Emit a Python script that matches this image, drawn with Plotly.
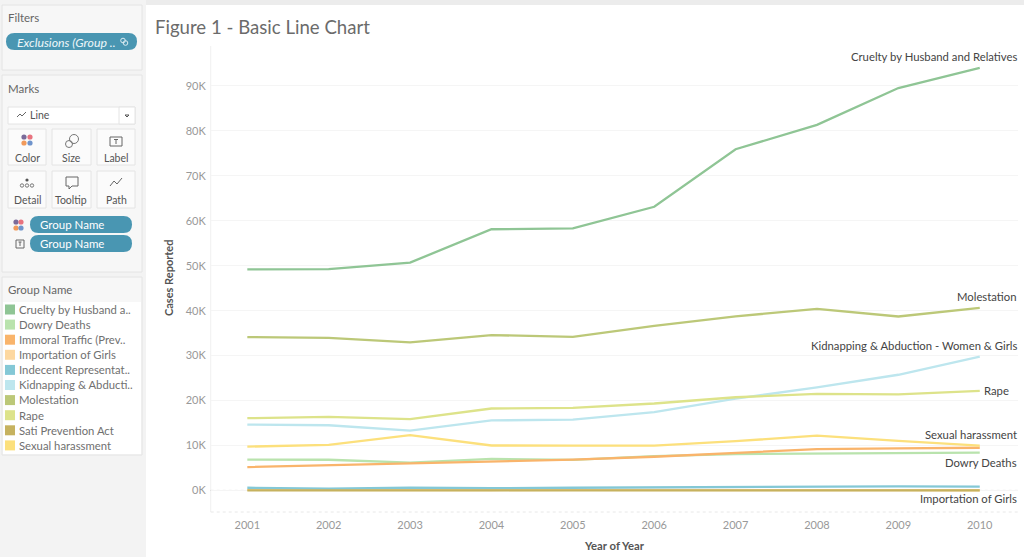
import plotly.graph_objects as go

W, H = 1024, 557
FONT = "Lato"

years = [2001, 2002, 2003, 2004, 2005, 2006, 2007, 2008, 2009, 2010]

cruelty = [49170, 49237, 50703, 58121, 58319, 63128, 75930, 81344, 89546, 94041]
dowry = [6851, 6822, 6208, 7026, 6787, 7618, 8093, 8172, 8383, 8391]
immoral = [5200, 5650, 6100, 6550, 6850, 7500, 8300, 9200, 9350, 9500]
importation = [114, 76, 46, 89, 149, 67, 61, 67, 48, 36]
indecent = [600, 400, 600, 500, 600, 700, 800, 900, 900, 850]
kidnapping = [14645, 14506, 13296, 15578, 15750, 17414, 20416, 22939, 25741, 29795]
molestation = [34124, 33943, 32939, 34567, 34175, 36617, 38734, 40413, 38711, 40613]
rape = [16075, 16373, 15847, 18233, 18359, 19348, 20737, 21467, 21397, 22172]
sati = [0, 0, 0, 0, 0, 0, 0, 0, 0, 0]
harassment = [9746, 10155, 12325, 10001, 9984, 9966, 10950, 12214, 11009, 9961]

series = [cruelty, dowry, immoral, importation, indecent, kidnapping, molestation, rape, sati, harassment]
names = ["Cruelty by Husband and Relatives", "Dowry Deaths", "Immoral Traffic (Prevention) Act",
         "Importation of Girls", "Indecent Representation of Women", "Kidnapping & Abduction - Women & Girls",
         "Molestation", "Rape", "Sati Prevention Act", "Sexual harassment"]
legend_labels = ["Cruelty by Husband a..", "Dowry Deaths", "Immoral Traffic (Prev..", "Importation of Girls",
                 "Indecent Representat..", "Kidnapping & Abducti..", "Molestation", "Rape",
                 "Sati Prevention Act", "Sexual harassment"]
colors = ["#8fc595", "#b9e3ad", "#f9b46b", "#fdd8a0", "#84c8d6", "#bde6ee",
          "#bcc878", "#dde38a", "#c6b25f", "#fce07c"]

y_ticks = [0, 10000, 20000, 30000, 40000, 50000, 60000, 70000, 80000, 90000]
y_tick_labels = ["0K", "10K", "20K", "30K", "40K", "50K", "60K", "70K", "80K", "90K"]

# end labels: text, pixel row, pixel right edge
end_labels = [("Cruelty by Husband and Relatives", 56, 1017), ("Molestation", 296, 1017),
              ("Kidnapping & Abduction - Women & Girls", 345, 1017), ("Rape", 390, 1009),
              ("Sexual harassment", 434, 1017), ("Dowry Deaths", 462, 1017), ("Importation of Girls", 498, 1017)]


# sidebar helpers, everything in screen pixels
def px_x(x):
    return x / W


def px_y(y):
    return 1 - y / H


def rect(x0, y0, x1, y1, fill, line=None):
    return dict(type="rect", xref="paper", yref="paper", x0=px_x(x0), x1=px_x(x1), y0=px_y(y0), y1=px_y(y1),
                fillcolor=fill, line=dict(color=line or fill, width=1 if line else 0), layer="below")


def pill(x0, y0, x1, y1, fill):
    r = (y1 - y0) / 2
    a, b, c, d = px_x(x0), px_x(x0 + r), px_x(x1 - r), px_x(x1)
    t, m, u = px_y(y0), px_y((y0 + y1) / 2), px_y(y1)
    path = f"M {b} {t} L {c} {t} Q {d} {t} {d} {m} Q {d} {u} {c} {u} L {b} {u} Q {a} {u} {a} {m} Q {a} {t} {b} {t} Z"
    return dict(type="path", xref="paper", yref="paper", path=path, fillcolor=fill, line=dict(width=0), layer="below")


def dot(cx, cy, r, fill, line=None):
    return dict(type="circle", xref="paper", yref="paper", x0=px_x(cx - r), x1=px_x(cx + r),
                y0=px_y(cy - r), y1=px_y(cy + r), fillcolor=fill,
                line=dict(color=line or fill, width=1 if line else 0), layer="above")


def poly(points, color="#666666"):
    path = "M " + " L ".join(f"{px_x(x)} {px_y(y)}" for x, y in points)
    return dict(type="path", xref="paper", yref="paper", path=path, line=dict(color=color, width=1), layer="above")


def text(x, y, s, size=11, color="#666666", anchor="left", **kw):
    # annotations carry about 2px of padding
    shift = {"left": -2, "right": 2, "center": 0}[anchor]
    return dict(xref="paper", yref="paper", x=px_x(x + shift), y=px_y(y), text=s, showarrow=False, xanchor=anchor,
                yanchor="middle", font=dict(family=FONT, size=size, color=color), **kw)


fig = go.Figure()
for name, values, color in zip(names, series, colors):
    fig.add_trace(go.Scatter(x=years, y=values, name=name, mode="lines",
                             line=dict(color=color, width=2.3), showlegend=False))

PILL = "#4996b2"
CARD = "#f7f7f7"
EDGE = "#e4e4e4"
shapes = [
    rect(0, 0, 146, H, "#f3f3f3"),
    rect(146, 0, W, 5, "#ececec"),
    rect(2, 5, 142, 70, CARD, EDGE),
    rect(2, 75, 142, 272, CARD, EDGE),
    rect(2, 277, 142, 455, CARD, EDGE),
    rect(3, 302, 141, 454, "#ffffff"),
    rect(8, 107, 135, 124, "#ffffff", EDGE),
    rect(119, 107, 135, 124, "#ffffff", EDGE),
    pill(6, 33, 137, 50, PILL),
    pill(30, 216, 132, 233, PILL),
    pill(30, 235, 132, 252, PILL),
    # plot frame and dotted zero line
    dict(type="line", xref="paper", yref="paper", x0=210.7 / W, x1=210.7 / W, y0=px_y(46), y1=px_y(512),
         line=dict(color="#f0f0f0", width=1), layer="below"),
    dict(type="line", xref="paper", yref="paper", x0=210.7 / W, x1=1018 / W, y0=px_y(512), y1=px_y(512),
         line=dict(color="#e8e8e8", width=1, dash="dot"), layer="below"),
    dict(type="line", xref="paper", yref="y", x0=210.7 / W, x1=1018 / W, y0=0, y1=0,
         line=dict(color="#bbbbbb", width=1, dash="dot"), layer="below"),
]
for x0, x1 in [(8, 46), (52, 91), (97, 135)]:
    for y0, y1 in [(129, 165), (171, 208)]:
        shapes.append(rect(x0, y0, x1, y1, "#fbfbfb", EDGE))

# marks card icons
icon_dots = [(24, 137, "#7b6b9a"), (30, 137, "#e8737f"), (24, 143, "#f19a5b"), (30, 143, "#6f94cc"),
             (16, 222, "#7b6b9a"), (21, 222, "#e8737f"), (16, 228, "#f19a5b"), (21, 228, "#6f94cc")]
for cx, cy, c in icon_dots:
    shapes.append(dot(cx, cy, 2.6, c))
shapes += [dot(69, 144, 3.5, "#fbfbfb", "#777777"), dot(74, 139, 4.5, "rgba(0,0,0,0)", "#777777")]
shapes += [dot(27, 180, 1.6, "#555555")]
for cx in [22, 27, 32]:
    shapes.append(dot(cx, 185.5, 1.7, "#fbfbfb", "#777777"))
shapes += [
    poly([(110, 137), (122, 137), (122, 146), (110, 146), (110, 137)]),
    poly([(114, 139.5), (118, 139.5)]),
    poly([(116, 139.5), (116, 144)]),
    poly([(66, 177), (78, 177), (78, 186), (72, 186), (69, 189), (69, 186), (66, 186), (66, 177)]),
    poly([(110, 186), (114, 181), (117, 184), (122, 178)]),
    poly([(17, 117), (20, 114), (22, 116), (26, 112)]),
    poly([(16, 240), (24, 240), (24, 248), (16, 248), (16, 240)]),
    poly([(18.5, 242), (21.5, 242)]),
    poly([(20, 242), (20, 246)]),
    poly([(125, 115), (129, 115), (127, 117), (125, 115)], "#555555"),
    dot(123, 40.5, 2.3, "rgba(0,0,0,0)", "#dcecf2"),
    dot(125.5, 43, 2.3, "rgba(0,0,0,0)", "#dcecf2"),
]
# legend swatches
for i, c in enumerate(colors):
    shapes.append(rect(5, 304.5 + i * 15.1, 15, 314.5 + i * 15.1, c))

annotations = [
    text(8, 18, "Filters", 11.5, "#666666"),
    text(16.5, 42, "<i>Exclusions (Group ..</i>", 12.3, "#eef6f9"),
    text(8, 89, "Marks", 11.5, "#666666"),
    text(30, 115, "Line", 10.5, "#555555"),
    text(27, 158, "Color", 10.5, "#555555", "center"),
    text(71, 158, "Size", 10.5, "#555555", "center"),
    text(116, 158, "Label", 10.5, "#555555", "center"),
    text(27, 200, "Detail", 10.5, "#555555", "center"),
    text(71, 200, "Tooltip", 10.5, "#555555", "center"),
    text(116, 200, "Path", 10.5, "#555555", "center"),
    text(40, 224.5, "Group Name", 11.5, "#ffffff"),
    text(40, 243.5, "Group Name", 11.5, "#ffffff"),
    text(8, 289.5, "Group Name", 11.5, "#666666"),
    text(155, 27, "Figure 1 - Basic Line Chart", 18.6, "#6b6b6b"),
    text(168, 278, "<b>Cases Reported</b>", 11, "#555555", "center", textangle=-90),
    text(614, 545, "<b>Year of Year</b>", 11.3, "#555555", "center"),
]
for i, label in enumerate(legend_labels):
    annotations.append(text(19, 309.3 + i * 15.1, label, 11.3, "#707070"))
for label, row, edge in end_labels:
    annotations.append(text(edge, row, label, 11.3, "#444444", "right"))

fig.update_layout(
    width=W, height=H, autosize=False,
    margin=dict(l=0, r=0, t=0, b=0),
    paper_bgcolor="#ffffff", plot_bgcolor="#ffffff",
    font=dict(family=FONT),
    shapes=shapes, annotations=annotations,
    xaxis=dict(domain=[210.7 / W, 1018 / W], range=[2000.55, 2010.47], tickmode="array", tickvals=years,
               ticks="", showgrid=False, zeroline=False, showline=False, ticklabelstandoff=5,
               tickfont=dict(size=11, color="#999999")),
    yaxis=dict(domain=[1 - 512 / H, 1 - 46 / H], range=[-4800, 98900], tickmode="array", tickvals=y_ticks,
               ticktext=y_tick_labels, ticks="", gridcolor="#f5f5f5", gridwidth=1, zeroline=False,
               showline=False, ticklabelstandoff=4,
               tickfont=dict(size=11, color="#999999")),
)

fig.write_html("out.html", config=dict(displayModeBar=False), post_script="document.body.style.margin='0';")
